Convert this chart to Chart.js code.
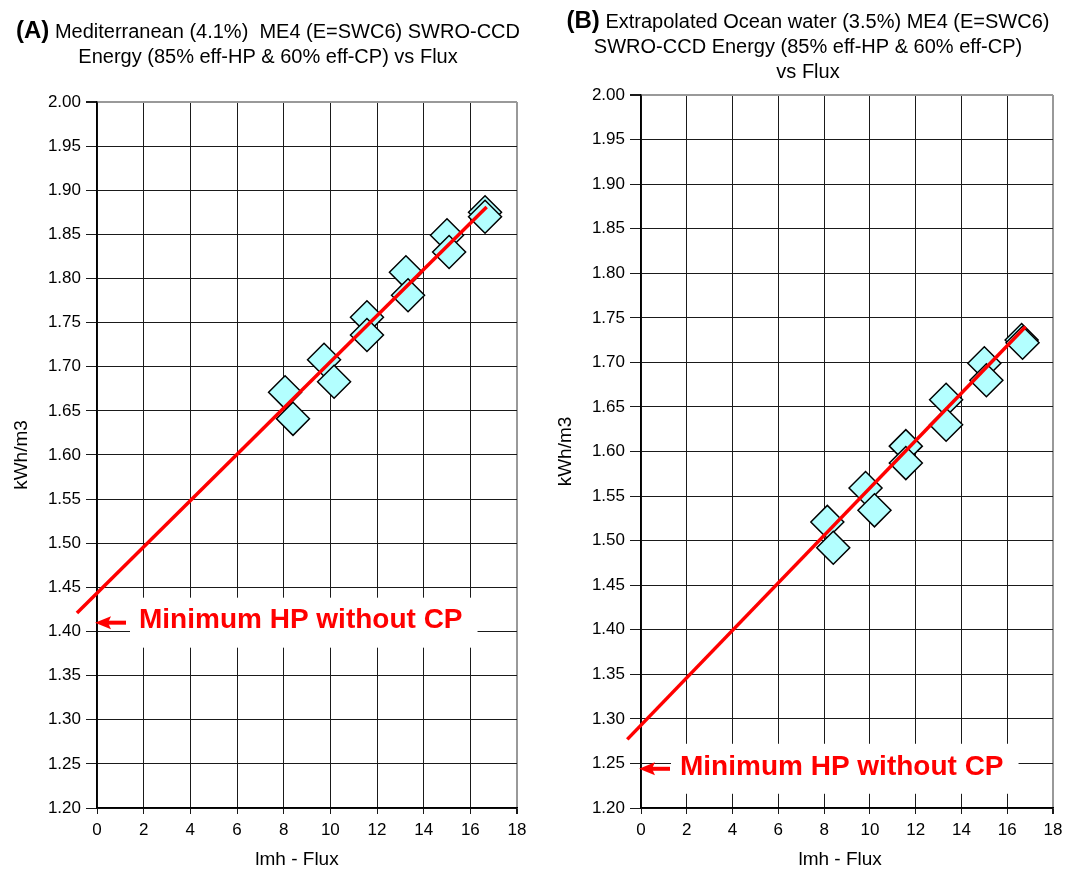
<!DOCTYPE html>
<html>
<head>
<meta charset="utf-8">
<script src="https://cdn.jsdelivr.net/npm/chart.js@4/dist/chart.umd.min.js"></script>
<style>
  body { margin: 0; background: #fff; }
  #wrap { position: relative; width: 1071px; height: 872px; }
  .box { position: absolute; top: 0; height: 872px; }
</style>
</head>
<body>
<div id="wrap">
  <div class="box" style="left:0;width:535px"><canvas id="chartA"></canvas></div>
  <div class="box" style="left:535px;width:536px"><canvas id="chartB"></canvas></div>
</div>
<script>
// ticks
const xTicks = [0, 2, 4, 6, 8, 10, 12, 14, 16, 18];
const yMin = 1.20, yMax = 2.00, yStep = 0.05;

// (A) Mediterranean 4.1%
const fluxA   = [8.06, 8.40, 9.73, 10.16, 11.57, 11.57, 13.24, 13.33, 15.00, 15.09, 16.63, 16.63];
const energyA = [1.671, 1.641, 1.708, 1.683, 1.756, 1.736, 1.807, 1.781, 1.849, 1.830, 1.875, 1.870];
const trendFluxA   = [-0.86, 16.70];
const trendEnergyA = [1.421, 1.881];
const minHpA = 1.41;

// (B) extrapolated ocean water 3.5%
const fluxB   = [8.14, 8.40, 9.81, 10.20, 11.57, 11.57, 13.33, 13.33, 15.00, 15.09, 16.63, 16.67];
const energyB = [1.521, 1.492, 1.559, 1.534, 1.606, 1.587, 1.658, 1.630, 1.699, 1.680, 1.725, 1.722];
const trendFluxB   = [-0.60, 16.80];
const trendEnergyB = [1.277, 1.740];
const minHpB = 1.244;

const FONT = "'Liberation Sans', Arial, sans-serif";
const toPts = (xs, ys) => xs.map((x, i) => ({ x: x, y: ys[i] }));

// titres, fleche et texte "Minimum HP"
function overlayPlugin(o) {
  return {
    id: 'overlay',
    afterDatasetsDraw(chart) {
      const ctx = chart.ctx;
      const xs = chart.scales.x, ys = chart.scales.y;
      const tipX = xs.getPixelForValue(0);
      const ay = ys.getPixelForValue(o.minHp);
      const label = 'Minimum HP without CP';
      ctx.save();
      ctx.font = 'bold 28px ' + FONT;
      const tw = ctx.measureText(label).width;
      const tx = tipX + o.textOff;
      ctx.fillStyle = '#fff';
      ctx.fillRect(tx - 9, ay - 25, tw + 24, 50);
      ctx.fillStyle = '#ff0000';
      ctx.textBaseline = 'middle';
      ctx.fillText(label, tx, ay - 2);
      // fleche
      ctx.strokeStyle = '#ff0000';
      ctx.lineWidth = 4;
      ctx.beginPath();
      ctx.moveTo(tipX + 29, ay);
      ctx.lineTo(tipX + 10, ay);
      ctx.stroke();
      ctx.beginPath();
      ctx.moveTo(tipX - 2, ay);
      ctx.lineTo(tipX + 14, ay - 6.5);
      ctx.lineTo(tipX + 11, ay);
      ctx.lineTo(tipX + 14, ay + 6.5);
      ctx.closePath();
      ctx.fill();
      ctx.restore();
    },
    afterDraw(chart) {
      const ctx = chart.ctx;
      const ca = chart.chartArea;
      ctx.save();
      ctx.fillStyle = '#000';
      ctx.textBaseline = 'alphabetic';
      // titre principal
      o.title.forEach((line, i) => {
        const y = o.titleY + i * 25;
        if (i === 0) {
          ctx.font = 'bold 24px ' + FONT;
          const w1 = ctx.measureText(o.tag).width;
          ctx.font = '20px ' + FONT;
          const w2 = ctx.measureText(line).width;
          let x = o.titleX - (w1 + w2) / 2;
          ctx.textAlign = 'left';
          ctx.font = 'bold 24px ' + FONT;
          ctx.fillText(o.tag, x, y);
          ctx.font = '20px ' + FONT;
          ctx.fillText(line, x + w1, y);
        } else {
          ctx.font = '20px ' + FONT;
          ctx.textAlign = 'center';
          ctx.fillText(line, o.titleX, y);
        }
      });
      // titres des axes
      ctx.font = '19px ' + FONT;
      ctx.textAlign = 'center';
      const plotLeft = chart.scales.x.getPixelForValue(o.plotMin);
      ctx.fillText('lmh - Flux', (plotLeft + ca.right) / 2, 865);
      ctx.translate(o.yTitleX, (ca.top + ca.bottom) / 2);
      ctx.rotate(-Math.PI / 2);
      ctx.textBaseline = 'middle';
      ctx.fillText('kWh/m3', 0, 0);
      ctx.restore();
    }
  };
}

function makeChart(id, flux, energy, tFlux, tEnergy, o) {
  new Chart(document.getElementById(id), {
    type: 'scatter',
    data: {
      datasets: [
        {
          data: toPts(tFlux, tEnergy),
          showLine: true,
          borderColor: '#ff0000',
          borderWidth: 3.5,
          pointRadius: 0,
          clip: false,
          order: 0
        },
        {
          data: toPts(flux, energy),
          pointStyle: 'rectRot',
          pointRadius: 16.5,
          backgroundColor: '#b3ffff',
          borderColor: '#000',
          borderWidth: 1.5,
          order: 1
        }
      ]
    },
    options: {
      responsive: true,
      maintainAspectRatio: false,
      animation: false,
      events: [],
      layout: { padding: { left: 0, top: o.top, right: o.right, bottom: 0 } },
      plugins: { legend: { display: false }, tooltip: { enabled: false } },
      scales: {
        x: {
          type: 'linear',
          min: 0, max: 18,
          afterBuildTicks: s => { s.ticks = xTicks.map(v => ({ value: v })); },
          afterFit: s => { s.height = 872 - o.bottom; },
          ticks: { color: '#000', font: { size: 17, family: FONT }, padding: 6 },
          grid: {
            color: c => c.tick && c.tick.value >= 18 ? '#999' : '#1a1a1a',
            lineWidth: c => c.tick && c.tick.value >= 18 ? 2 : 1,
            tickColor: '#1a1a1a',
            tickLength: 6
          },
          border: { color: '#000', width: 1.5 }
        },
        y: {
          type: 'linear',
          min: yMin, max: yMax,
          ticks: {
            stepSize: yStep,
            color: '#000',
            font: { size: 17, family: FONT },
            padding: 5,
            callback: v => v.toFixed(2)
          },
          afterFit: s => { s.width = o.yWidth; },
          grid: {
            color: c => c.tick && c.tick.value >= 1.999 ? '#999' : '#1a1a1a',
            lineWidth: c => c.tick && c.tick.value >= 1.999 ? 2 : 1,
            tickColor: '#1a1a1a',
            tickLength: 11
          },
          border: { color: '#000', width: 1.5 }
        }
      }
    },
    plugins: [overlayPlugin(o)]
  });
}

makeChart('chartA', fluxA, energyA, trendFluxA, trendEnergyA, {
  top: 102, right: 18, bottom: 808, yWidth: 97,
  minHp: minHpA, textOff: 42, plotMin: trendFluxA[0],
  tag: '(A)', title: [' Mediterranean (4.1%)  ME4 (E=SWC6) SWRO-CCD', 'Energy (85% eff-HP & 60% eff-CP) vs Flux'],
  titleX: 268, titleY: 38, yTitleX: 22
});

makeChart('chartB', fluxB, energyB, trendFluxB, trendEnergyB, {
  top: 95, right: 10, bottom: 808, yWidth: 106,
  minHp: minHpB, textOff: 39, plotMin: trendFluxB[0],
  tag: '(B)', title: [' Extrapolated Ocean water (3.5%) ME4 (E=SWC6)', 'SWRO-CCD Energy (85% eff-HP & 60% eff-CP)', 'vs Flux'],
  titleX: 273, titleY: 28, yTitleX: 31
});
</script>
</body>
</html>
